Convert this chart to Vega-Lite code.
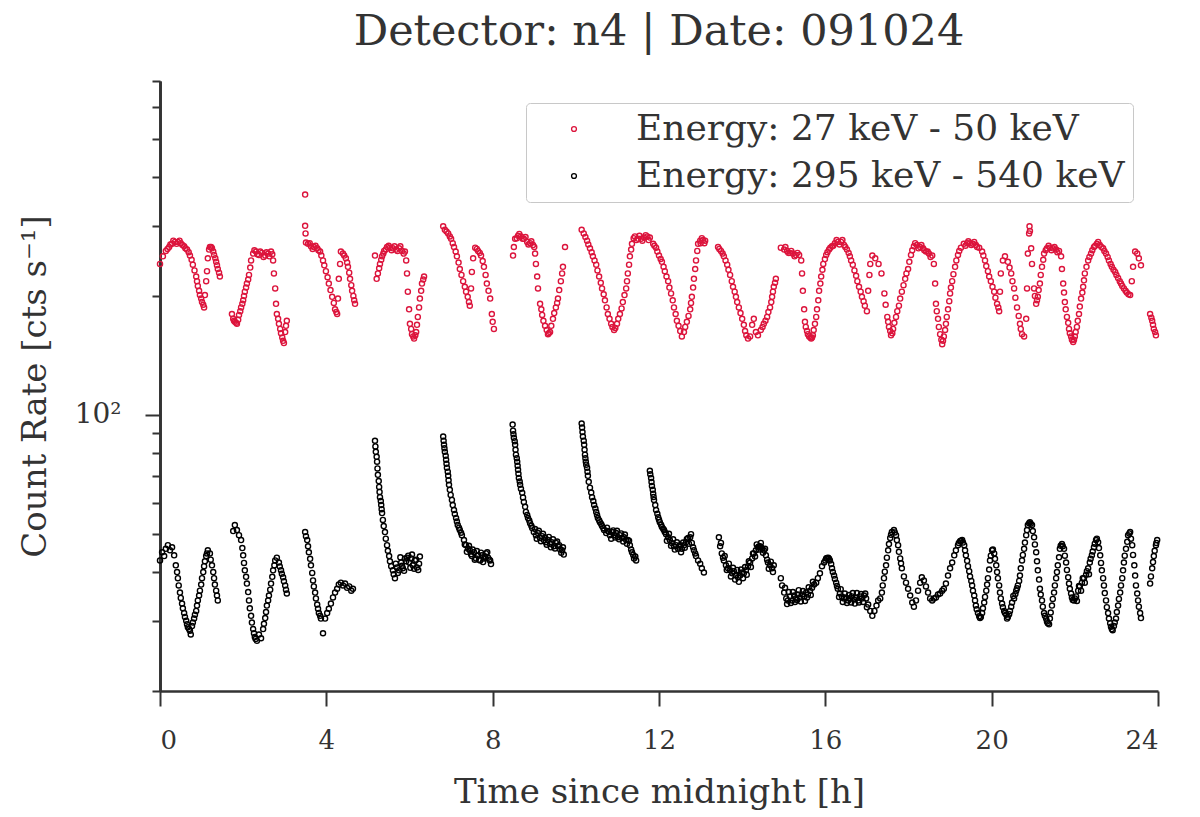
{
  "$schema": "https://vega.github.io/schema/vega-lite/v6.json",
  "autosize": "none",
  "width": 998,
  "height": 610,
  "padding": {"left": 160, "top": 81, "right": 42, "bottom": 126},
  "background": "#ffffff",
  "title": {
    "text": "Detector: n4 | Date: 091024",
    "fontSize": 43,
    "fontWeight": "normal",
    "color": "#333333",
    "anchor": "middle",
    "offset": 26
  },
  "config": {
    "font": "DejaVu Serif",
    "view": {"stroke": null},
    "axis": {
      "domainColor": "#333333",
      "domainWidth": 2.7,
      "tickColor": "#333333",
      "tickWidth": 2,
      "labelColor": "#333333",
      "titleColor": "#333333",
      "labelFontSize": 26,
      "titleFontSize": 34,
      "titleFontWeight": "normal",
      "grid": false
    }
  },
  "data": {
    "values": [
      {"h":0.00,"v":241,"b":"lo"},{"h":0.07,"v":252,"b":"lo"},{"h":0.14,"v":260,"b":"lo"},{"h":0.22,"v":266,"b":"lo"},{"h":0.29,"v":271,"b":"lo"},{"h":0.36,"v":274,"b":"lo"},{"h":0.43,"v":274,"b":"lo"},{"h":0.50,"v":272,"b":"lo"},{"h":0.58,"v":267,"b":"lo"},{"h":0.65,"v":262,"b":"lo"},{"h":0.72,"v":253,"b":"lo"},{"h":0.79,"v":240,"b":"lo"},{"h":0.87,"v":224,"b":"lo"},{"h":0.91,"v":212,"b":"lo"},{"h":0.96,"v":201,"b":"lo"},{"h":1.01,"v":193,"b":"lo"},{"h":1.06,"v":187,"b":"lo"},{"h":1.08,"v":201,"b":"lo"},{"h":1.11,"v":218,"b":"lo"},{"h":1.13,"v":231,"b":"lo"},{"h":1.15,"v":249,"b":"lo"},{"h":1.20,"v":266,"b":"lo"},{"h":1.25,"v":264,"b":"lo"},{"h":1.30,"v":254,"b":"lo"},{"h":1.35,"v":244,"b":"lo"},{"h":1.39,"v":234,"b":"lo"},{"h":1.44,"v":224,"b":"lo"},
      {"h":0.18,"v":263,"b":"lo"},{"h":0.25,"v":270,"b":"lo"},{"h":0.32,"v":276,"b":"lo"},{"h":0.40,"v":271,"b":"lo"},{"h":0.47,"v":276,"b":"lo"},{"h":0.54,"v":269,"b":"lo"},
      {"h":0.61,"v":264,"b":"lo"},{"h":0.69,"v":258,"b":"lo"},{"h":0.76,"v":247,"b":"lo"},{"h":0.83,"v":232,"b":"lo"},{"h":0.89,"v":218,"b":"lo"},{"h":0.94,"v":206,"b":"lo"},{"h":0.99,"v":197,"b":"lo"},{"h":1.04,"v":190,"b":"lo"},{"h":1.18,"v":262,"b":"lo"},{"h":1.23,"v":266,"b":"lo"},{"h":1.28,"v":259,"b":"lo"},{"h":1.33,"v":249,"b":"lo"},{"h":1.37,"v":239,"b":"lo"},{"h":1.42,"v":229,"b":"lo"},
      {"h":1.73,"v":180,"b":"lo"},{"h":1.76,"v":175,"b":"lo"},{"h":1.80,"v":172,"b":"lo"},{"h":1.85,"v":170,"b":"lo"},{"h":1.90,"v":179,"b":"lo"},{"h":1.95,"v":187,"b":"lo"},{"h":2.00,"v":195,"b":"lo"},{"h":2.04,"v":205,"b":"lo"},{"h":2.09,"v":215,"b":"lo"},{"h":2.14,"v":226,"b":"lo"},{"h":2.19,"v":246,"b":"lo"},{"h":2.24,"v":256,"b":"lo"},{"h":2.31,"v":259,"b":"lo"},{"h":2.38,"v":254,"b":"lo"},{"h":2.45,"v":257,"b":"lo"},{"h":2.53,"v":253,"b":"lo"},{"h":2.60,"v":256,"b":"lo"},{"h":2.67,"v":259,"b":"lo"},{"h":2.72,"v":246,"b":"lo"},{"h":2.74,"v":228,"b":"lo"},{"h":2.77,"v":209,"b":"lo"},{"h":2.79,"v":191,"b":"lo"},{"h":2.81,"v":180,"b":"lo"},{"h":2.86,"v":170,"b":"lo"},{"h":2.91,"v":161,"b":"lo"},{"h":2.96,"v":154,"b":"lo"},{"h":2.98,"v":152,"b":"lo"},{"h":3.01,"v":162,"b":"lo"},{"h":3.05,"v":173,"b":"lo"},
      {"h":2.27,"v":261,"b":"lo"},{"h":2.34,"v":255,"b":"lo"},{"h":2.41,"v":259,"b":"lo"},{"h":2.49,"v":251,"b":"lo"},{"h":2.56,"v":258,"b":"lo"},{"h":2.63,"v":252,"b":"lo"},{"h":2.70,"v":255,"b":"lo"},
      {"h":1.78,"v":173,"b":"lo"},{"h":1.83,"v":171,"b":"lo"},{"h":1.88,"v":174,"b":"lo"},{"h":1.93,"v":183,"b":"lo"},{"h":1.98,"v":191,"b":"lo"},{"h":2.02,"v":200,"b":"lo"},{"h":2.07,"v":210,"b":"lo"},{"h":2.12,"v":220,"b":"lo"},{"h":2.17,"v":236,"b":"lo"},{"h":2.84,"v":175,"b":"lo"},{"h":2.89,"v":165,"b":"lo"},{"h":2.94,"v":157,"b":"lo"},{"h":3.03,"v":168,"b":"lo"},
      {"h":3.49,"v":361,"b":"lo"},{"h":3.49,"v":301,"b":"lo"},{"h":3.50,"v":288,"b":"lo"},{"h":3.51,"v":273,"b":"lo"},{"h":3.56,"v":271,"b":"lo"},{"h":3.63,"v":267,"b":"lo"},{"h":3.70,"v":266,"b":"lo"},{"h":3.78,"v":264,"b":"lo"},{"h":3.85,"v":259,"b":"lo"},{"h":3.92,"v":246,"b":"lo"},{"h":3.99,"v":231,"b":"lo"},{"h":4.06,"v":215,"b":"lo"},{"h":4.14,"v":199,"b":"lo"},{"h":4.21,"v":185,"b":"lo"},{"h":4.26,"v":180,"b":"lo"},{"h":4.28,"v":197,"b":"lo"},{"h":4.30,"v":221,"b":"lo"},{"h":4.33,"v":241,"b":"lo"},{"h":4.35,"v":259,"b":"lo"},{"h":4.40,"v":256,"b":"lo"},{"h":4.47,"v":249,"b":"lo"},{"h":4.52,"v":237,"b":"lo"},{"h":4.57,"v":221,"b":"lo"},{"h":4.62,"v":206,"b":"lo"},{"h":4.67,"v":195,"b":"lo"},{"h":4.69,"v":191,"b":"lo"},
      {"h":3.60,"v":272,"b":"lo"},{"h":3.67,"v":263,"b":"lo"},{"h":3.74,"v":268,"b":"lo"},{"h":3.81,"v":261,"b":"lo"},
      {"h":3.88,"v":253,"b":"lo"},{"h":3.95,"v":239,"b":"lo"},{"h":4.03,"v":223,"b":"lo"},{"h":4.10,"v":207,"b":"lo"},{"h":4.18,"v":192,"b":"lo"},{"h":4.24,"v":182,"b":"lo"},{"h":4.43,"v":253,"b":"lo"},{"h":4.50,"v":243,"b":"lo"},{"h":4.55,"v":229,"b":"lo"},{"h":4.60,"v":213,"b":"lo"},{"h":4.65,"v":200,"b":"lo"},
      {"h":5.17,"v":253,"b":"lo"},{"h":5.21,"v":221,"b":"lo"},{"h":5.24,"v":228,"b":"lo"},{"h":5.29,"v":241,"b":"lo"},{"h":5.34,"v":252,"b":"lo"},{"h":5.39,"v":260,"b":"lo"},{"h":5.46,"v":266,"b":"lo"},{"h":5.53,"v":265,"b":"lo"},{"h":5.60,"v":264,"b":"lo"},{"h":5.68,"v":262,"b":"lo"},{"h":5.75,"v":264,"b":"lo"},{"h":5.82,"v":260,"b":"lo"},{"h":5.89,"v":259,"b":"lo"},{"h":5.92,"v":246,"b":"lo"},{"h":5.94,"v":228,"b":"lo"},{"h":5.96,"v":205,"b":"lo"},{"h":5.99,"v":185,"b":"lo"},{"h":6.01,"v":170,"b":"lo"},{"h":6.06,"v":160,"b":"lo"},{"h":6.11,"v":156,"b":"lo"},{"h":6.16,"v":162,"b":"lo"},{"h":6.20,"v":177,"b":"lo"},{"h":6.25,"v":197,"b":"lo"},{"h":6.30,"v":215,"b":"lo"},{"h":6.35,"v":224,"b":"lo"},
      {"h":5.43,"v":262,"b":"lo"},{"h":5.50,"v":268,"b":"lo"},{"h":5.57,"v":261,"b":"lo"},{"h":5.64,"v":267,"b":"lo"},{"h":5.71,"v":260,"b":"lo"},{"h":5.78,"v":267,"b":"lo"},{"h":5.86,"v":256,"b":"lo"},
      {"h":5.27,"v":235,"b":"lo"},{"h":5.32,"v":247,"b":"lo"},{"h":5.37,"v":256,"b":"lo"},{"h":6.04,"v":165,"b":"lo"},{"h":6.09,"v":158,"b":"lo"},{"h":6.14,"v":159,"b":"lo"},{"h":6.18,"v":169,"b":"lo"},{"h":6.23,"v":187,"b":"lo"},{"h":6.28,"v":206,"b":"lo"},{"h":6.33,"v":220,"b":"lo"},
      {"h":6.81,"v":300,"b":"lo"},{"h":6.85,"v":294,"b":"lo"},{"h":6.93,"v":288,"b":"lo"},{"h":7.00,"v":279,"b":"lo"},{"h":7.07,"v":266,"b":"lo"},{"h":7.14,"v":252,"b":"lo"},{"h":7.21,"v":234,"b":"lo"},{"h":7.29,"v":218,"b":"lo"},{"h":7.36,"v":205,"b":"lo"},{"h":7.43,"v":193,"b":"lo"},{"h":7.45,"v":189,"b":"lo"},{"h":7.48,"v":209,"b":"lo"},{"h":7.50,"v":230,"b":"lo"},{"h":7.53,"v":249,"b":"lo"},{"h":7.58,"v":265,"b":"lo"},{"h":7.65,"v":260,"b":"lo"},{"h":7.72,"v":253,"b":"lo"},{"h":7.79,"v":237,"b":"lo"},{"h":7.86,"v":215,"b":"lo"},{"h":7.94,"v":197,"b":"lo"},{"h":7.98,"v":180,"b":"lo"},{"h":8.03,"v":165,"b":"lo"},
      {"h":6.89,"v":291,"b":"lo"},{"h":6.97,"v":283,"b":"lo"},{"h":7.04,"v":272,"b":"lo"},{"h":7.11,"v":259,"b":"lo"},{"h":7.18,"v":243,"b":"lo"},{"h":7.25,"v":226,"b":"lo"},{"h":7.33,"v":211,"b":"lo"},{"h":7.40,"v":199,"b":"lo"},{"h":7.62,"v":263,"b":"lo"},{"h":7.69,"v":257,"b":"lo"},{"h":7.76,"v":245,"b":"lo"},{"h":7.83,"v":226,"b":"lo"},{"h":7.90,"v":206,"b":"lo"},{"h":8.00,"v":172,"b":"lo"},
      {"h":8.49,"v":253,"b":"lo"},{"h":8.51,"v":266,"b":"lo"},{"h":8.54,"v":279,"b":"lo"},{"h":8.61,"v":284,"b":"lo"},{"h":8.68,"v":283,"b":"lo"},{"h":8.75,"v":279,"b":"lo"},{"h":8.83,"v":274,"b":"lo"},{"h":8.90,"v":272,"b":"lo"},{"h":8.97,"v":269,"b":"lo"},{"h":9.02,"v":256,"b":"lo"},{"h":9.04,"v":241,"b":"lo"},{"h":9.07,"v":224,"b":"lo"},{"h":9.09,"v":209,"b":"lo"},{"h":9.14,"v":191,"b":"lo"},{"h":9.19,"v":179,"b":"lo"},{"h":9.26,"v":168,"b":"lo"},{"h":9.33,"v":160,"b":"lo"},{"h":9.38,"v":162,"b":"lo"},{"h":9.45,"v":175,"b":"lo"},{"h":9.52,"v":187,"b":"lo"},{"h":9.57,"v":197,"b":"lo"},{"h":9.64,"v":218,"b":"lo"},{"h":9.69,"v":237,"b":"lo"},{"h":9.74,"v":266,"b":"lo"},
      {"h":8.58,"v":280,"b":"lo"},{"h":8.64,"v":287,"b":"lo"},{"h":8.72,"v":279,"b":"lo"},{"h":8.79,"v":282,"b":"lo"},{"h":8.86,"v":270,"b":"lo"},{"h":8.93,"v":275,"b":"lo"},{"h":9.00,"v":266,"b":"lo"},
      {"h":9.17,"v":185,"b":"lo"},{"h":9.22,"v":173,"b":"lo"},{"h":9.30,"v":164,"b":"lo"},{"h":9.35,"v":161,"b":"lo"},{"h":9.41,"v":168,"b":"lo"},{"h":9.48,"v":181,"b":"lo"},{"h":9.55,"v":192,"b":"lo"},{"h":9.60,"v":207,"b":"lo"},{"h":9.67,"v":228,"b":"lo"},
      {"h":10.14,"v":294,"b":"lo"},{"h":10.19,"v":288,"b":"lo"},{"h":10.27,"v":276,"b":"lo"},{"h":10.34,"v":264,"b":"lo"},{"h":10.41,"v":252,"b":"lo"},{"h":10.49,"v":240,"b":"lo"},{"h":10.56,"v":224,"b":"lo"},{"h":10.63,"v":209,"b":"lo"},{"h":10.70,"v":195,"b":"lo"},{"h":10.77,"v":180,"b":"lo"},{"h":10.85,"v":170,"b":"lo"},{"h":10.92,"v":164,"b":"lo"},{"h":10.99,"v":170,"b":"lo"},{"h":11.06,"v":180,"b":"lo"},{"h":11.13,"v":193,"b":"lo"},{"h":11.21,"v":209,"b":"lo"},{"h":11.25,"v":228,"b":"lo"},{"h":11.30,"v":252,"b":"lo"},{"h":11.35,"v":271,"b":"lo"},{"h":11.42,"v":283,"b":"lo"},{"h":11.50,"v":279,"b":"lo"},{"h":11.57,"v":279,"b":"lo"},{"h":11.64,"v":281,"b":"lo"},{"h":11.72,"v":283,"b":"lo"},{"h":11.78,"v":281,"b":"lo"},{"h":11.86,"v":271,"b":"lo"},{"h":11.93,"v":265,"b":"lo"},{"h":12.00,"v":253,"b":"lo"},{"h":12.07,"v":244,"b":"lo"},{"h":12.14,"v":231,"b":"lo"},{"h":12.22,"v":218,"b":"lo"},{"h":12.29,"v":203,"b":"lo"},{"h":12.36,"v":187,"b":"lo"},{"h":12.43,"v":173,"b":"lo"},{"h":12.51,"v":163,"b":"lo"},{"h":12.55,"v":158,"b":"lo"},{"h":12.60,"v":162,"b":"lo"},{"h":12.67,"v":172,"b":"lo"},{"h":12.75,"v":185,"b":"lo"},{"h":12.79,"v":199,"b":"lo"},{"h":12.84,"v":221,"b":"lo"},{"h":12.89,"v":246,"b":"lo"},{"h":12.94,"v":271,"b":"lo"},{"h":12.99,"v":276,"b":"lo"},{"h":13.06,"v":277,"b":"lo"},{"h":13.11,"v":276,"b":"lo"},
      {"h":11.46,"v":277,"b":"lo"},{"h":11.53,"v":284,"b":"lo"},{"h":11.60,"v":276,"b":"lo"},{"h":11.68,"v":285,"b":"lo"},{"h":11.75,"v":277,"b":"lo"},{"h":13.00,"v":272,"b":"lo"},{"h":13.03,"v":280,"b":"lo"},{"h":13.09,"v":272,"b":"lo"},
      {"h":10.23,"v":282,"b":"lo"},{"h":10.30,"v":270,"b":"lo"},{"h":10.38,"v":258,"b":"lo"},{"h":10.45,"v":246,"b":"lo"},{"h":10.52,"v":232,"b":"lo"},{"h":10.60,"v":216,"b":"lo"},{"h":10.67,"v":202,"b":"lo"},{"h":10.74,"v":187,"b":"lo"},{"h":10.81,"v":175,"b":"lo"},{"h":10.88,"v":167,"b":"lo"},{"h":10.95,"v":166,"b":"lo"},{"h":11.02,"v":175,"b":"lo"},{"h":11.10,"v":186,"b":"lo"},{"h":11.17,"v":201,"b":"lo"},{"h":11.23,"v":218,"b":"lo"},{"h":11.28,"v":240,"b":"lo"},{"h":11.33,"v":262,"b":"lo"},{"h":11.39,"v":280,"b":"lo"},{"h":11.89,"v":268,"b":"lo"},{"h":11.96,"v":259,"b":"lo"},{"h":12.04,"v":248,"b":"lo"},{"h":12.11,"v":237,"b":"lo"},{"h":12.18,"v":224,"b":"lo"},{"h":12.25,"v":210,"b":"lo"},{"h":12.33,"v":195,"b":"lo"},{"h":12.40,"v":180,"b":"lo"},{"h":12.47,"v":168,"b":"lo"},{"h":12.63,"v":167,"b":"lo"},{"h":12.71,"v":178,"b":"lo"},{"h":12.77,"v":192,"b":"lo"},{"h":12.82,"v":210,"b":"lo"},{"h":12.87,"v":234,"b":"lo"},{"h":12.92,"v":260,"b":"lo"},
      {"h":13.42,"v":266,"b":"lo"},{"h":13.49,"v":260,"b":"lo"},{"h":13.56,"v":252,"b":"lo"},{"h":13.64,"v":240,"b":"lo"},{"h":13.71,"v":226,"b":"lo"},{"h":13.78,"v":211,"b":"lo"},{"h":13.85,"v":199,"b":"lo"},{"h":13.92,"v":187,"b":"lo"},{"h":14.00,"v":175,"b":"lo"},{"h":14.07,"v":163,"b":"lo"},{"h":14.14,"v":156,"b":"lo"},{"h":14.19,"v":158,"b":"lo"},{"h":14.24,"v":169,"b":"lo"},{"h":14.28,"v":175,"b":"lo"},{"h":14.33,"v":162,"b":"lo"},{"h":14.38,"v":159,"b":"lo"},{"h":14.45,"v":164,"b":"lo"},{"h":14.52,"v":170,"b":"lo"},{"h":14.60,"v":177,"b":"lo"},{"h":14.67,"v":187,"b":"lo"},{"h":14.72,"v":199,"b":"lo"},{"h":14.76,"v":211,"b":"lo"},{"h":14.81,"v":221,"b":"lo"},
      {"h":13.45,"v":263,"b":"lo"},{"h":13.53,"v":256,"b":"lo"},{"h":13.60,"v":246,"b":"lo"},{"h":13.67,"v":233,"b":"lo"},{"h":13.75,"v":218,"b":"lo"},{"h":13.82,"v":205,"b":"lo"},{"h":13.88,"v":193,"b":"lo"},{"h":13.96,"v":181,"b":"lo"},{"h":14.04,"v":169,"b":"lo"},{"h":14.10,"v":159,"b":"lo"},{"h":14.49,"v":167,"b":"lo"},{"h":14.56,"v":173,"b":"lo"},{"h":14.63,"v":182,"b":"lo"},{"h":14.70,"v":193,"b":"lo"},{"h":14.74,"v":205,"b":"lo"},{"h":14.79,"v":216,"b":"lo"},
      {"h":14.93,"v":265,"b":"lo"},{"h":15.01,"v":262,"b":"lo"},{"h":15.08,"v":260,"b":"lo"},{"h":15.15,"v":257,"b":"lo"},{"h":15.22,"v":256,"b":"lo"},{"h":15.29,"v":254,"b":"lo"},{"h":15.37,"v":254,"b":"lo"},{"h":15.42,"v":246,"b":"lo"},{"h":15.44,"v":228,"b":"lo"},{"h":15.46,"v":206,"b":"lo"},{"h":15.49,"v":185,"b":"lo"},{"h":15.51,"v":172,"b":"lo"},{"h":15.56,"v":163,"b":"lo"},{"h":15.61,"v":158,"b":"lo"},{"h":15.66,"v":156,"b":"lo"},{"h":15.70,"v":159,"b":"lo"},{"h":15.75,"v":170,"b":"lo"},{"h":15.80,"v":185,"b":"lo"},{"h":15.85,"v":206,"b":"lo"},{"h":15.90,"v":224,"b":"lo"},{"h":15.95,"v":241,"b":"lo"},{"h":16.02,"v":254,"b":"lo"},{"h":16.09,"v":262,"b":"lo"},{"h":16.16,"v":267,"b":"lo"},{"h":16.23,"v":272,"b":"lo"},{"h":16.30,"v":274,"b":"lo"},{"h":16.38,"v":274,"b":"lo"},{"h":16.45,"v":269,"b":"lo"},{"h":16.52,"v":262,"b":"lo"},{"h":16.59,"v":252,"b":"lo"},{"h":16.66,"v":240,"b":"lo"},{"h":16.74,"v":225,"b":"lo"},{"h":16.81,"v":211,"b":"lo"},{"h":16.88,"v":199,"b":"lo"},{"h":16.95,"v":189,"b":"lo"},{"h":17.00,"v":183,"b":"lo"},{"h":17.03,"v":206,"b":"lo"},{"h":17.06,"v":226,"b":"lo"},{"h":17.08,"v":241,"b":"lo"},{"h":17.13,"v":253,"b":"lo"},{"h":17.20,"v":249,"b":"lo"},{"h":17.28,"v":241,"b":"lo"},{"h":17.35,"v":228,"b":"lo"},{"h":17.42,"v":203,"b":"lo"},{"h":17.49,"v":177,"b":"lo"},{"h":17.53,"v":167,"b":"lo"},{"h":17.58,"v":159,"b":"lo"},{"h":17.63,"v":165,"b":"lo"},{"h":17.70,"v":177,"b":"lo"},{"h":17.77,"v":189,"b":"lo"},{"h":17.84,"v":205,"b":"lo"},{"h":17.92,"v":221,"b":"lo"},{"h":17.99,"v":234,"b":"lo"},{"h":18.06,"v":254,"b":"lo"},{"h":18.13,"v":267,"b":"lo"},{"h":18.20,"v":269,"b":"lo"},{"h":18.28,"v":266,"b":"lo"},{"h":18.35,"v":264,"b":"lo"},{"h":18.42,"v":259,"b":"lo"},{"h":18.49,"v":256,"b":"lo"},{"h":18.57,"v":253,"b":"lo"},{"h":18.61,"v":241,"b":"lo"},{"h":18.64,"v":215,"b":"lo"},{"h":18.66,"v":191,"b":"lo"},{"h":18.71,"v":175,"b":"lo"},{"h":18.76,"v":160,"b":"lo"},{"h":18.81,"v":151,"b":"lo"},{"h":18.85,"v":158,"b":"lo"},{"h":18.90,"v":170,"b":"lo"},{"h":18.95,"v":185,"b":"lo"},{"h":19.00,"v":203,"b":"lo"},{"h":19.05,"v":218,"b":"lo"},{"h":19.12,"v":237,"b":"lo"},{"h":19.19,"v":254,"b":"lo"},{"h":19.26,"v":265,"b":"lo"},{"h":19.33,"v":271,"b":"lo"},{"h":19.41,"v":272,"b":"lo"},{"h":19.48,"v":272,"b":"lo"},{"h":19.55,"v":271,"b":"lo"},{"h":19.62,"v":269,"b":"lo"},{"h":19.70,"v":265,"b":"lo"},{"h":19.77,"v":259,"b":"lo"},{"h":19.84,"v":246,"b":"lo"},{"h":19.91,"v":231,"b":"lo"},{"h":19.98,"v":218,"b":"lo"},{"h":20.06,"v":205,"b":"lo"},{"h":20.13,"v":191,"b":"lo"},{"h":20.18,"v":183,"b":"lo"},{"h":20.20,"v":205,"b":"lo"},{"h":20.22,"v":228,"b":"lo"},{"h":20.27,"v":246,"b":"lo"},{"h":20.32,"v":252,"b":"lo"},{"h":20.39,"v":244,"b":"lo"},{"h":20.47,"v":228,"b":"lo"},{"h":20.54,"v":209,"b":"lo"},{"h":20.61,"v":187,"b":"lo"},{"h":20.68,"v":170,"b":"lo"},{"h":20.73,"v":160,"b":"lo"},{"h":20.78,"v":158,"b":"lo"},{"h":20.83,"v":175,"b":"lo"},{"h":20.85,"v":209,"b":"lo"},{"h":20.87,"v":256,"b":"lo"},{"h":20.90,"v":288,"b":"lo"},{"h":20.91,"v":300,"b":"lo"},{"h":20.92,"v":292,"b":"lo"},{"h":20.95,"v":264,"b":"lo"},{"h":20.97,"v":241,"b":"lo"},{"h":21.02,"v":209,"b":"lo"},{"h":21.07,"v":191,"b":"lo"},{"h":21.11,"v":199,"b":"lo"},{"h":21.16,"v":215,"b":"lo"},{"h":21.21,"v":237,"b":"lo"},{"h":21.26,"v":256,"b":"lo"},{"h":21.33,"v":264,"b":"lo"},{"h":21.40,"v":265,"b":"lo"},{"h":21.47,"v":264,"b":"lo"},{"h":21.55,"v":262,"b":"lo"},{"h":21.62,"v":260,"b":"lo"},{"h":21.67,"v":252,"b":"lo"},{"h":21.69,"v":234,"b":"lo"},{"h":21.72,"v":215,"b":"lo"},{"h":21.76,"v":193,"b":"lo"},{"h":21.81,"v":177,"b":"lo"},{"h":21.86,"v":165,"b":"lo"},{"h":21.91,"v":158,"b":"lo"},{"h":21.96,"v":153,"b":"lo"},{"h":22.00,"v":158,"b":"lo"},{"h":22.05,"v":167,"b":"lo"},{"h":22.10,"v":180,"b":"lo"},{"h":22.15,"v":197,"b":"lo"},{"h":22.20,"v":211,"b":"lo"},{"h":22.24,"v":228,"b":"lo"},{"h":22.32,"v":246,"b":"lo"},{"h":22.39,"v":256,"b":"lo"},{"h":22.46,"v":266,"b":"lo"},{"h":22.53,"v":271,"b":"lo"},{"h":22.60,"v":269,"b":"lo"},{"h":22.68,"v":264,"b":"lo"},{"h":22.75,"v":256,"b":"lo"},{"h":22.82,"v":246,"b":"lo"},{"h":22.89,"v":237,"b":"lo"},{"h":22.97,"v":230,"b":"lo"},{"h":23.04,"v":222,"b":"lo"},{"h":23.11,"v":215,"b":"lo"},{"h":23.18,"v":209,"b":"lo"},{"h":23.25,"v":204,"b":"lo"},{"h":23.33,"v":201,"b":"lo"},{"h":23.37,"v":218,"b":"lo"},{"h":23.40,"v":237,"b":"lo"},{"h":23.45,"v":259,"b":"lo"},{"h":23.50,"v":256,"b":"lo"},{"h":23.54,"v":249,"b":"lo"},{"h":23.59,"v":239,"b":"lo"},{"h":23.81,"v":180,"b":"lo"},{"h":23.86,"v":173,"b":"lo"},{"h":23.90,"v":165,"b":"lo"},{"h":23.95,"v":159,"b":"lo"},
      {"h":15.04,"v":266,"b":"lo"},{"h":15.11,"v":257,"b":"lo"},{"h":15.18,"v":260,"b":"lo"},{"h":15.26,"v":252,"b":"lo"},{"h":15.33,"v":257,"b":"lo"},{"h":16.19,"v":268,"b":"lo"},{"h":16.27,"v":277,"b":"lo"},{"h":16.34,"v":270,"b":"lo"},{"h":16.41,"v":277,"b":"lo"},{"h":16.48,"v":266,"b":"lo"},{"h":18.16,"v":272,"b":"lo"},{"h":18.24,"v":264,"b":"lo"},{"h":18.31,"v":269,"b":"lo"},{"h":18.38,"v":261,"b":"lo"},{"h":18.46,"v":259,"b":"lo"},{"h":18.53,"v":251,"b":"lo"},{"h":19.37,"v":268,"b":"lo"},{"h":19.44,"v":275,"b":"lo"},{"h":19.51,"v":269,"b":"lo"},{"h":19.58,"v":274,"b":"lo"},{"h":19.65,"v":266,"b":"lo"},{"h":21.30,"v":261,"b":"lo"},{"h":21.37,"v":268,"b":"lo"},{"h":21.44,"v":261,"b":"lo"},{"h":21.51,"v":266,"b":"lo"},{"h":21.58,"v":258,"b":"lo"},{"h":22.49,"v":268,"b":"lo"},{"h":22.56,"v":274,"b":"lo"},{"h":22.64,"v":266,"b":"lo"},
      {"h":15.53,"v":167,"b":"lo"},{"h":15.58,"v":160,"b":"lo"},{"h":15.64,"v":157,"b":"lo"},{"h":15.68,"v":157,"b":"lo"},{"h":15.72,"v":164,"b":"lo"},{"h":15.78,"v":177,"b":"lo"},{"h":15.83,"v":195,"b":"lo"},{"h":15.88,"v":215,"b":"lo"},{"h":15.93,"v":233,"b":"lo"},{"h":15.99,"v":248,"b":"lo"},{"h":16.05,"v":258,"b":"lo"},{"h":16.12,"v":265,"b":"lo"},{"h":16.56,"v":257,"b":"lo"},{"h":16.62,"v":246,"b":"lo"},{"h":16.70,"v":232,"b":"lo"},{"h":16.77,"v":218,"b":"lo"},{"h":16.85,"v":205,"b":"lo"},{"h":16.92,"v":194,"b":"lo"},{"h":17.45,"v":190,"b":"lo"},{"h":17.51,"v":172,"b":"lo"},{"h":17.56,"v":163,"b":"lo"},{"h":17.61,"v":161,"b":"lo"},{"h":17.66,"v":171,"b":"lo"},{"h":17.73,"v":183,"b":"lo"},{"h":17.80,"v":197,"b":"lo"},{"h":17.88,"v":213,"b":"lo"},{"h":17.95,"v":228,"b":"lo"},{"h":18.02,"v":244,"b":"lo"},{"h":18.09,"v":261,"b":"lo"},{"h":18.68,"v":183,"b":"lo"},{"h":18.73,"v":167,"b":"lo"},{"h":18.79,"v":155,"b":"lo"},{"h":18.83,"v":154,"b":"lo"},{"h":18.88,"v":164,"b":"lo"},{"h":18.92,"v":177,"b":"lo"},{"h":18.98,"v":194,"b":"lo"},{"h":19.02,"v":210,"b":"lo"},{"h":19.08,"v":227,"b":"lo"},{"h":19.15,"v":246,"b":"lo"},{"h":19.22,"v":260,"b":"lo"},{"h":19.80,"v":253,"b":"lo"},{"h":19.87,"v":238,"b":"lo"},{"h":19.94,"v":224,"b":"lo"},{"h":20.02,"v":211,"b":"lo"},{"h":20.09,"v":198,"b":"lo"},{"h":20.16,"v":187,"b":"lo"},{"h":20.43,"v":236,"b":"lo"},{"h":20.50,"v":218,"b":"lo"},{"h":20.57,"v":198,"b":"lo"},{"h":20.65,"v":178,"b":"lo"},{"h":20.70,"v":165,"b":"lo"},{"h":21.04,"v":200,"b":"lo"},{"h":21.09,"v":195,"b":"lo"},{"h":21.13,"v":207,"b":"lo"},{"h":21.18,"v":226,"b":"lo"},{"h":21.24,"v":247,"b":"lo"},{"h":21.74,"v":204,"b":"lo"},{"h":21.78,"v":185,"b":"lo"},{"h":21.84,"v":171,"b":"lo"},{"h":21.88,"v":161,"b":"lo"},{"h":21.93,"v":155,"b":"lo"},{"h":21.98,"v":155,"b":"lo"},{"h":22.02,"v":162,"b":"lo"},{"h":22.07,"v":173,"b":"lo"},{"h":22.12,"v":188,"b":"lo"},{"h":22.18,"v":204,"b":"lo"},{"h":22.22,"v":219,"b":"lo"},{"h":22.28,"v":237,"b":"lo"},{"h":22.35,"v":251,"b":"lo"},{"h":22.42,"v":261,"b":"lo"},{"h":22.71,"v":260,"b":"lo"},{"h":22.79,"v":251,"b":"lo"},{"h":22.86,"v":241,"b":"lo"},{"h":22.93,"v":233,"b":"lo"},{"h":23.00,"v":226,"b":"lo"},{"h":23.08,"v":218,"b":"lo"},{"h":23.14,"v":212,"b":"lo"},{"h":23.22,"v":206,"b":"lo"},{"h":23.29,"v":202,"b":"lo"},{"h":23.84,"v":176,"b":"lo"},{"h":23.88,"v":169,"b":"lo"},{"h":23.93,"v":162,"b":"lo"},
      {"h":0.00,"v":42.8,"b":"hi"},{"h":0.05,"v":44.9,"b":"hi"},{"h":0.10,"v":43.9,"b":"hi"},{"h":0.14,"v":45.8,"b":"hi"},{"h":0.19,"v":46.8,"b":"hi"},{"h":0.24,"v":45.4,"b":"hi"},{"h":0.29,"v":46.2,"b":"hi"},{"h":0.34,"v":44.1,"b":"hi"},{"h":0.38,"v":41.6,"b":"hi"},{"h":0.43,"v":38.6,"b":"hi"},{"h":0.48,"v":35.5,"b":"hi"},{"h":0.53,"v":33.3,"b":"hi"},{"h":0.58,"v":31.5,"b":"hi"},{"h":0.63,"v":30.1,"b":"hi"},{"h":0.67,"v":29.0,"b":"hi"},{"h":0.72,"v":28.4,"b":"hi"},{"h":0.74,"v":27.8,"b":"hi"},{"h":0.77,"v":29.2,"b":"hi"},{"h":0.82,"v":30.5,"b":"hi"},{"h":0.87,"v":31.9,"b":"hi"},{"h":0.91,"v":33.9,"b":"hi"},{"h":0.96,"v":35.9,"b":"hi"},{"h":1.01,"v":38.6,"b":"hi"},{"h":1.06,"v":41.4,"b":"hi"},{"h":1.11,"v":43.9,"b":"hi"},{"h":1.15,"v":45.4,"b":"hi"},{"h":1.20,"v":44.6,"b":"hi"},{"h":1.25,"v":41.6,"b":"hi"},{"h":1.30,"v":38.6,"b":"hi"},{"h":1.35,"v":35.9,"b":"hi"},{"h":1.39,"v":33.9,"b":"hi"},
      {"h":0.41,"v":40.0,"b":"hi"},{"h":0.45,"v":37.0,"b":"hi"},{"h":0.50,"v":34.4,"b":"hi"},{"h":0.55,"v":32.4,"b":"hi"},{"h":0.60,"v":30.8,"b":"hi"},{"h":0.65,"v":29.5,"b":"hi"},{"h":0.70,"v":28.7,"b":"hi"},{"h":0.79,"v":29.8,"b":"hi"},{"h":0.84,"v":31.2,"b":"hi"},{"h":0.89,"v":32.9,"b":"hi"},{"h":0.94,"v":34.9,"b":"hi"},{"h":0.99,"v":37.2,"b":"hi"},{"h":1.04,"v":40.0,"b":"hi"},{"h":1.08,"v":42.6,"b":"hi"},{"h":1.13,"v":44.6,"b":"hi"},{"h":1.22,"v":43.0,"b":"hi"},{"h":1.28,"v":40.0,"b":"hi"},{"h":1.32,"v":37.2,"b":"hi"},{"h":1.37,"v":34.9,"b":"hi"},
      {"h":1.76,"v":50.8,"b":"hi"},{"h":1.80,"v":52.6,"b":"hi"},{"h":1.85,"v":51.1,"b":"hi"},{"h":1.90,"v":49.6,"b":"hi"},{"h":1.95,"v":48.2,"b":"hi"},{"h":2.00,"v":44.1,"b":"hi"},{"h":2.04,"v":40.4,"b":"hi"},{"h":2.09,"v":37.4,"b":"hi"},{"h":2.14,"v":33.9,"b":"hi"},{"h":2.19,"v":31.0,"b":"hi"},{"h":2.24,"v":28.7,"b":"hi"},{"h":2.28,"v":27.4,"b":"hi"},{"h":2.33,"v":26.8,"b":"hi"},{"h":2.38,"v":27.8,"b":"hi"},{"h":2.43,"v":27.2,"b":"hi"},{"h":2.48,"v":28.7,"b":"hi"},{"h":2.53,"v":30.6,"b":"hi"},{"h":2.57,"v":32.9,"b":"hi"},{"h":2.62,"v":34.9,"b":"hi"},{"h":2.67,"v":37.4,"b":"hi"},{"h":2.72,"v":40.4,"b":"hi"},{"h":2.77,"v":42.8,"b":"hi"},{"h":2.81,"v":43.5,"b":"hi"},{"h":2.86,"v":42.3,"b":"hi"},{"h":2.91,"v":40.4,"b":"hi"},{"h":2.96,"v":38.8,"b":"hi"},{"h":3.01,"v":37.0,"b":"hi"},{"h":3.05,"v":35.3,"b":"hi"},
      {"h":1.98,"v":46.0,"b":"hi"},{"h":2.02,"v":42.2,"b":"hi"},{"h":2.07,"v":38.9,"b":"hi"},{"h":2.12,"v":35.6,"b":"hi"},{"h":2.16,"v":32.4,"b":"hi"},{"h":2.21,"v":29.8,"b":"hi"},{"h":2.26,"v":28.0,"b":"hi"},{"h":2.30,"v":27.1,"b":"hi"},{"h":2.50,"v":29.6,"b":"hi"},{"h":2.55,"v":31.7,"b":"hi"},{"h":2.60,"v":33.9,"b":"hi"},{"h":2.65,"v":36.1,"b":"hi"},{"h":2.70,"v":38.9,"b":"hi"},{"h":2.75,"v":41.6,"b":"hi"},{"h":2.88,"v":41.3,"b":"hi"},{"h":2.93,"v":39.6,"b":"hi"},{"h":2.98,"v":37.9,"b":"hi"},{"h":3.03,"v":36.1,"b":"hi"},
      {"h":3.49,"v":50.5,"b":"hi"},{"h":3.54,"v":48.2,"b":"hi"},{"h":3.58,"v":44.9,"b":"hi"},{"h":3.63,"v":41.6,"b":"hi"},{"h":3.68,"v":38.1,"b":"hi"},{"h":3.73,"v":35.5,"b":"hi"},{"h":3.78,"v":33.1,"b":"hi"},{"h":3.82,"v":31.5,"b":"hi"},{"h":3.87,"v":30.5,"b":"hi"},{"h":3.92,"v":28.0,"b":"hi"},{"h":3.97,"v":30.5,"b":"hi"},{"h":4.02,"v":31.5,"b":"hi"},{"h":4.06,"v":32.3,"b":"hi"},{"h":4.11,"v":33.3,"b":"hi"},{"h":4.16,"v":34.5,"b":"hi"},{"h":4.21,"v":35.5,"b":"hi"},{"h":4.26,"v":36.3,"b":"hi"},{"h":4.30,"v":37.2,"b":"hi"},{"h":4.35,"v":37.6,"b":"hi"},{"h":4.40,"v":37.0,"b":"hi"},{"h":4.45,"v":37.4,"b":"hi"},{"h":4.50,"v":36.5,"b":"hi"},{"h":4.55,"v":36.8,"b":"hi"},{"h":4.60,"v":35.9,"b":"hi"},{"h":4.64,"v":36.3,"b":"hi"},
      {"h":3.51,"v":49.3,"b":"hi"},{"h":3.56,"v":46.5,"b":"hi"},{"h":3.61,"v":43.2,"b":"hi"},{"h":3.66,"v":39.8,"b":"hi"},{"h":3.70,"v":36.8,"b":"hi"},{"h":3.75,"v":34.3,"b":"hi"},{"h":3.80,"v":32.3,"b":"hi"},{"h":3.85,"v":31.0,"b":"hi"},
      {"h":5.17,"v":86.0,"b":"hi"},{"h":5.19,"v":80.6,"b":"hi"},{"h":5.22,"v":76.1,"b":"hi"},{"h":5.24,"v":70.5,"b":"hi"},{"h":5.27,"v":65.7,"b":"hi"},{"h":5.29,"v":61.9,"b":"hi"},{"h":5.32,"v":59.1,"b":"hi"},{"h":5.34,"v":56.4,"b":"hi"},{"h":5.36,"v":54.2,"b":"hi"},{"h":5.41,"v":50.5,"b":"hi"},{"h":5.46,"v":46.8,"b":"hi"},{"h":5.51,"v":43.9,"b":"hi"},{"h":5.56,"v":41.4,"b":"hi"},{"h":5.60,"v":40.4,"b":"hi"},{"h":5.65,"v":38.6,"b":"hi"},{"h":5.70,"v":41.1,"b":"hi"},{"h":5.75,"v":40.4,"b":"hi"},{"h":5.80,"v":42.3,"b":"hi"},{"h":5.84,"v":40.9,"b":"hi"},{"h":5.89,"v":43.3,"b":"hi"},{"h":5.94,"v":43.5,"b":"hi"},{"h":5.99,"v":42.3,"b":"hi"},{"h":6.04,"v":43.3,"b":"hi"},{"h":6.08,"v":41.6,"b":"hi"},{"h":6.13,"v":42.8,"b":"hi"},{"h":6.18,"v":41.1,"b":"hi"},{"h":6.23,"v":42.0,"b":"hi"},
      {"h":5.62,"v":39.5,"b":"hi"},{"h":5.67,"v":42.0,"b":"hi"},{"h":5.72,"v":39.8,"b":"hi"},{"h":5.78,"v":43.6,"b":"hi"},{"h":5.82,"v":41.5,"b":"hi"},{"h":5.87,"v":40.3,"b":"hi"},{"h":5.92,"v":42.6,"b":"hi"},{"h":5.97,"v":44.0,"b":"hi"},{"h":6.02,"v":41.0,"b":"hi"},{"h":6.06,"v":44.3,"b":"hi"},{"h":6.11,"v":40.8,"b":"hi"},{"h":6.16,"v":43.0,"b":"hi"},{"h":6.21,"v":40.5,"b":"hi"},{"h":6.25,"v":43.8,"b":"hi"},
      {"h":5.18,"v":83.2,"b":"hi"},{"h":5.21,"v":78.3,"b":"hi"},{"h":5.23,"v":73.2,"b":"hi"},{"h":5.26,"v":68.0,"b":"hi"},{"h":5.28,"v":63.8,"b":"hi"},{"h":5.31,"v":60.5,"b":"hi"},{"h":5.33,"v":57.7,"b":"hi"},{"h":5.38,"v":52.3,"b":"hi"},{"h":5.43,"v":48.6,"b":"hi"},{"h":5.48,"v":45.3,"b":"hi"},{"h":5.53,"v":42.6,"b":"hi"},
      {"h":6.81,"v":88.1,"b":"hi"},{"h":6.83,"v":84.0,"b":"hi"},{"h":6.85,"v":80.6,"b":"hi"},{"h":6.88,"v":77.0,"b":"hi"},{"h":6.90,"v":73.5,"b":"hi"},{"h":6.93,"v":70.1,"b":"hi"},{"h":6.95,"v":66.5,"b":"hi"},{"h":6.97,"v":64.6,"b":"hi"},{"h":7.02,"v":60.9,"b":"hi"},{"h":7.07,"v":57.4,"b":"hi"},{"h":7.12,"v":54.8,"b":"hi"},{"h":7.16,"v":52.6,"b":"hi"},{"h":7.21,"v":51.1,"b":"hi"},{"h":7.26,"v":49.6,"b":"hi"},{"h":7.31,"v":48.2,"b":"hi"},{"h":7.36,"v":46.8,"b":"hi"},{"h":7.41,"v":45.8,"b":"hi"},{"h":7.45,"v":45.4,"b":"hi"},{"h":7.50,"v":43.9,"b":"hi"},{"h":7.55,"v":44.9,"b":"hi"},{"h":7.60,"v":43.3,"b":"hi"},{"h":7.65,"v":44.1,"b":"hi"},{"h":7.70,"v":42.8,"b":"hi"},{"h":7.74,"v":44.1,"b":"hi"},{"h":7.79,"v":43.3,"b":"hi"},{"h":7.84,"v":44.6,"b":"hi"},{"h":7.89,"v":43.5,"b":"hi"},{"h":7.94,"v":42.8,"b":"hi"},
      {"h":7.33,"v":47.0,"b":"hi"},{"h":7.38,"v":45.0,"b":"hi"},{"h":7.43,"v":46.6,"b":"hi"},{"h":7.48,"v":44.4,"b":"hi"},{"h":7.52,"v":45.6,"b":"hi"},{"h":7.57,"v":43.0,"b":"hi"},{"h":7.62,"v":45.2,"b":"hi"},{"h":7.67,"v":43.0,"b":"hi"},{"h":7.72,"v":44.8,"b":"hi"},{"h":7.77,"v":42.4,"b":"hi"},{"h":7.82,"v":43.8,"b":"hi"},{"h":7.87,"v":44.9,"b":"hi"},{"h":7.92,"v":43.0,"b":"hi"},{"h":7.96,"v":41.9,"b":"hi"},
      {"h":6.82,"v":86.0,"b":"hi"},{"h":6.84,"v":82.3,"b":"hi"},{"h":6.87,"v":78.8,"b":"hi"},{"h":6.89,"v":75.2,"b":"hi"},{"h":6.92,"v":71.8,"b":"hi"},{"h":6.94,"v":68.3,"b":"hi"},{"h":6.99,"v":62.7,"b":"hi"},{"h":7.04,"v":59.1,"b":"hi"},{"h":7.09,"v":56.1,"b":"hi"},{"h":7.14,"v":53.7,"b":"hi"},{"h":7.19,"v":51.8,"b":"hi"},{"h":7.24,"v":50.3,"b":"hi"},
      {"h":8.48,"v":94.5,"b":"hi"},{"h":8.49,"v":91.2,"b":"hi"},{"h":8.51,"v":87.5,"b":"hi"},{"h":8.54,"v":84.0,"b":"hi"},{"h":8.56,"v":79.3,"b":"hi"},{"h":8.59,"v":76.1,"b":"hi"},{"h":8.61,"v":72.6,"b":"hi"},{"h":8.63,"v":69.2,"b":"hi"},{"h":8.66,"v":66.5,"b":"hi"},{"h":8.71,"v":63.5,"b":"hi"},{"h":8.75,"v":60.2,"b":"hi"},{"h":8.80,"v":56.8,"b":"hi"},{"h":8.85,"v":54.8,"b":"hi"},{"h":8.90,"v":53.2,"b":"hi"},{"h":8.95,"v":51.7,"b":"hi"},{"h":8.99,"v":50.5,"b":"hi"},{"h":9.04,"v":49.6,"b":"hi"},{"h":9.09,"v":50.2,"b":"hi"},{"h":9.14,"v":48.8,"b":"hi"},{"h":9.19,"v":49.3,"b":"hi"},{"h":9.23,"v":48.2,"b":"hi"},{"h":9.28,"v":47.6,"b":"hi"},{"h":9.33,"v":48.2,"b":"hi"},{"h":9.38,"v":47.1,"b":"hi"},{"h":9.42,"v":47.6,"b":"hi"},{"h":9.47,"v":46.5,"b":"hi"},{"h":9.52,"v":47.4,"b":"hi"},{"h":9.57,"v":46.5,"b":"hi"},{"h":9.62,"v":45.7,"b":"hi"},{"h":9.67,"v":45.4,"b":"hi"},{"h":9.71,"v":44.3,"b":"hi"},
      {"h":9.02,"v":51.4,"b":"hi"},{"h":9.06,"v":48.6,"b":"hi"},{"h":9.11,"v":50.9,"b":"hi"},{"h":9.16,"v":47.9,"b":"hi"},{"h":9.21,"v":50.0,"b":"hi"},{"h":9.26,"v":48.9,"b":"hi"},{"h":9.30,"v":46.9,"b":"hi"},{"h":9.35,"v":49.1,"b":"hi"},{"h":9.40,"v":46.2,"b":"hi"},{"h":9.45,"v":48.4,"b":"hi"},{"h":9.50,"v":45.9,"b":"hi"},{"h":9.55,"v":47.8,"b":"hi"},{"h":9.60,"v":46.8,"b":"hi"},{"h":9.65,"v":44.8,"b":"hi"},{"h":9.69,"v":46.2,"b":"hi"},
      {"h":8.50,"v":89.3,"b":"hi"},{"h":8.53,"v":85.7,"b":"hi"},{"h":8.55,"v":81.6,"b":"hi"},{"h":8.58,"v":77.7,"b":"hi"},{"h":8.60,"v":74.3,"b":"hi"},{"h":8.62,"v":70.9,"b":"hi"},{"h":8.65,"v":67.8,"b":"hi"},{"h":8.68,"v":65.0,"b":"hi"},{"h":8.73,"v":61.8,"b":"hi"},{"h":8.78,"v":58.5,"b":"hi"},{"h":8.83,"v":55.8,"b":"hi"},{"h":8.88,"v":54.0,"b":"hi"},{"h":8.93,"v":52.4,"b":"hi"},
      {"h":10.14,"v":95.1,"b":"hi"},{"h":10.15,"v":92.9,"b":"hi"},{"h":10.17,"v":88.1,"b":"hi"},{"h":10.20,"v":84.0,"b":"hi"},{"h":10.22,"v":79.3,"b":"hi"},{"h":10.24,"v":76.1,"b":"hi"},{"h":10.27,"v":73.5,"b":"hi"},{"h":10.29,"v":70.1,"b":"hi"},{"h":10.34,"v":65.4,"b":"hi"},{"h":10.39,"v":61.9,"b":"hi"},{"h":10.44,"v":59.1,"b":"hi"},{"h":10.49,"v":56.8,"b":"hi"},{"h":10.53,"v":54.8,"b":"hi"},{"h":10.58,"v":53.5,"b":"hi"},{"h":10.63,"v":52.3,"b":"hi"},{"h":10.68,"v":51.1,"b":"hi"},{"h":10.73,"v":50.2,"b":"hi"},{"h":10.77,"v":50.8,"b":"hi"},{"h":10.82,"v":49.6,"b":"hi"},{"h":10.87,"v":50.5,"b":"hi"},{"h":10.92,"v":49.6,"b":"hi"},{"h":10.97,"v":50.2,"b":"hi"},{"h":11.01,"v":49.0,"b":"hi"},{"h":11.06,"v":49.6,"b":"hi"},{"h":11.11,"v":48.8,"b":"hi"},{"h":11.16,"v":49.0,"b":"hi"},{"h":11.21,"v":48.2,"b":"hi"},{"h":11.25,"v":48.2,"b":"hi"},{"h":11.30,"v":46.8,"b":"hi"},{"h":11.35,"v":44.9,"b":"hi"},{"h":11.40,"v":43.3,"b":"hi"},{"h":11.45,"v":42.8,"b":"hi"},
      {"h":10.75,"v":51.8,"b":"hi"},{"h":10.80,"v":50.6,"b":"hi"},{"h":10.85,"v":48.6,"b":"hi"},{"h":10.90,"v":51.0,"b":"hi"},{"h":10.95,"v":48.9,"b":"hi"},{"h":10.99,"v":50.9,"b":"hi"},{"h":11.04,"v":48.4,"b":"hi"},{"h":11.09,"v":50.1,"b":"hi"},{"h":11.14,"v":47.8,"b":"hi"},{"h":11.18,"v":49.8,"b":"hi"},{"h":11.23,"v":47.2,"b":"hi"},{"h":11.28,"v":48.0,"b":"hi"},{"h":11.33,"v":45.6,"b":"hi"},{"h":11.38,"v":44.2,"b":"hi"},{"h":11.43,"v":43.8,"b":"hi"},
      {"h":10.16,"v":90.5,"b":"hi"},{"h":10.19,"v":86.0,"b":"hi"},{"h":10.21,"v":81.6,"b":"hi"},{"h":10.23,"v":77.7,"b":"hi"},{"h":10.25,"v":74.8,"b":"hi"},{"h":10.28,"v":71.8,"b":"hi"},{"h":10.31,"v":67.7,"b":"hi"},{"h":10.37,"v":63.6,"b":"hi"},{"h":10.42,"v":60.5,"b":"hi"},{"h":10.47,"v":57.9,"b":"hi"},{"h":10.51,"v":55.8,"b":"hi"},{"h":10.56,"v":54.1,"b":"hi"},{"h":10.61,"v":52.9,"b":"hi"},{"h":10.66,"v":51.7,"b":"hi"},
      {"h":11.78,"v":72.2,"b":"hi"},{"h":11.81,"v":69.2,"b":"hi"},{"h":11.83,"v":66.1,"b":"hi"},{"h":11.86,"v":63.1,"b":"hi"},{"h":11.88,"v":60.9,"b":"hi"},{"h":11.93,"v":57.4,"b":"hi"},{"h":11.98,"v":55.1,"b":"hi"},{"h":12.02,"v":53.5,"b":"hi"},{"h":12.07,"v":52.0,"b":"hi"},{"h":12.12,"v":51.1,"b":"hi"},{"h":12.17,"v":49.9,"b":"hi"},{"h":12.22,"v":49.0,"b":"hi"},{"h":12.26,"v":48.2,"b":"hi"},{"h":12.31,"v":47.4,"b":"hi"},{"h":12.36,"v":46.5,"b":"hi"},{"h":12.41,"v":46.8,"b":"hi"},{"h":12.46,"v":45.8,"b":"hi"},{"h":12.51,"v":46.8,"b":"hi"},{"h":12.55,"v":45.8,"b":"hi"},{"h":12.60,"v":46.8,"b":"hi"},{"h":12.65,"v":47.6,"b":"hi"},{"h":12.70,"v":48.8,"b":"hi"},{"h":12.75,"v":49.0,"b":"hi"},{"h":12.79,"v":47.4,"b":"hi"},{"h":12.84,"v":45.4,"b":"hi"},{"h":12.89,"v":43.9,"b":"hi"},{"h":12.94,"v":42.8,"b":"hi"},{"h":12.99,"v":42.0,"b":"hi"},{"h":13.03,"v":40.9,"b":"hi"},{"h":13.08,"v":39.9,"b":"hi"},
      {"h":12.19,"v":48.0,"b":"hi"},{"h":12.24,"v":50.0,"b":"hi"},{"h":12.29,"v":46.6,"b":"hi"},{"h":12.34,"v":48.4,"b":"hi"},{"h":12.38,"v":45.6,"b":"hi"},{"h":12.43,"v":47.6,"b":"hi"},{"h":12.48,"v":46.4,"b":"hi"},{"h":12.53,"v":44.9,"b":"hi"},{"h":12.58,"v":47.5,"b":"hi"},{"h":12.62,"v":46.1,"b":"hi"},{"h":12.67,"v":48.5,"b":"hi"},{"h":12.72,"v":47.2,"b":"hi"},{"h":12.77,"v":49.9,"b":"hi"},{"h":12.82,"v":46.2,"b":"hi"},{"h":12.87,"v":44.6,"b":"hi"},
      {"h":11.79,"v":70.7,"b":"hi"},{"h":11.82,"v":67.6,"b":"hi"},{"h":11.85,"v":64.6,"b":"hi"},{"h":11.87,"v":62.0,"b":"hi"},{"h":11.91,"v":59.1,"b":"hi"},{"h":11.96,"v":56.2,"b":"hi"},{"h":12.00,"v":54.3,"b":"hi"},{"h":12.05,"v":52.7,"b":"hi"},{"h":12.10,"v":51.5,"b":"hi"},{"h":12.14,"v":50.5,"b":"hi"},
      {"h":13.44,"v":49.0,"b":"hi"},{"h":13.47,"v":46.5,"b":"hi"},{"h":13.51,"v":44.6,"b":"hi"},{"h":13.56,"v":42.8,"b":"hi"},{"h":13.61,"v":41.6,"b":"hi"},{"h":13.66,"v":40.9,"b":"hi"},{"h":13.71,"v":40.4,"b":"hi"},{"h":13.76,"v":39.7,"b":"hi"},{"h":13.80,"v":40.2,"b":"hi"},{"h":13.85,"v":39.2,"b":"hi"},{"h":13.90,"v":38.8,"b":"hi"},{"h":13.95,"v":39.2,"b":"hi"},{"h":14.00,"v":39.9,"b":"hi"},{"h":14.04,"v":39.7,"b":"hi"},{"h":14.09,"v":40.4,"b":"hi"},{"h":14.14,"v":41.4,"b":"hi"},{"h":14.19,"v":42.3,"b":"hi"},{"h":14.24,"v":43.3,"b":"hi"},{"h":14.28,"v":44.6,"b":"hi"},{"h":14.33,"v":45.4,"b":"hi"},{"h":14.38,"v":46.2,"b":"hi"},{"h":14.43,"v":46.5,"b":"hi"},{"h":14.48,"v":45.8,"b":"hi"},{"h":14.52,"v":45.4,"b":"hi"},{"h":14.57,"v":44.1,"b":"hi"},{"h":14.62,"v":42.3,"b":"hi"},{"h":14.67,"v":41.6,"b":"hi"},{"h":14.72,"v":40.9,"b":"hi"},{"h":14.76,"v":41.6,"b":"hi"},
      {"h":13.49,"v":47.4,"b":"hi"},{"h":13.54,"v":43.5,"b":"hi"},{"h":13.58,"v":43.9,"b":"hi"},{"h":13.63,"v":40.5,"b":"hi"},{"h":13.68,"v":42.0,"b":"hi"},{"h":13.73,"v":39.0,"b":"hi"},{"h":13.78,"v":41.0,"b":"hi"},{"h":13.83,"v":38.3,"b":"hi"},{"h":13.88,"v":40.5,"b":"hi"},{"h":13.92,"v":37.8,"b":"hi"},{"h":13.97,"v":40.6,"b":"hi"},{"h":14.02,"v":38.6,"b":"hi"},{"h":14.07,"v":41.2,"b":"hi"},{"h":14.11,"v":39.4,"b":"hi"},{"h":14.16,"v":42.6,"b":"hi"},{"h":14.21,"v":41.2,"b":"hi"},{"h":14.26,"v":44.6,"b":"hi"},{"h":14.31,"v":43.8,"b":"hi"},{"h":14.35,"v":47.0,"b":"hi"},{"h":14.40,"v":45.6,"b":"hi"},{"h":14.45,"v":47.4,"b":"hi"},{"h":14.50,"v":44.8,"b":"hi"},{"h":14.55,"v":45.8,"b":"hi"},{"h":14.60,"v":43.0,"b":"hi"},{"h":14.64,"v":40.8,"b":"hi"},{"h":14.69,"v":42.5,"b":"hi"},{"h":14.74,"v":40.0,"b":"hi"},
      {"h":14.93,"v":38.6,"b":"hi"},{"h":14.96,"v":37.0,"b":"hi"},{"h":15.01,"v":35.5,"b":"hi"},{"h":15.06,"v":34.3,"b":"hi"},{"h":15.10,"v":33.9,"b":"hi"},{"h":15.15,"v":34.7,"b":"hi"},{"h":15.20,"v":33.9,"b":"hi"},{"h":15.25,"v":34.9,"b":"hi"},{"h":15.29,"v":34.3,"b":"hi"},{"h":15.34,"v":35.1,"b":"hi"},{"h":15.39,"v":34.5,"b":"hi"},{"h":15.44,"v":35.1,"b":"hi"},{"h":15.49,"v":34.7,"b":"hi"},{"h":15.54,"v":35.5,"b":"hi"},{"h":15.58,"v":35.1,"b":"hi"},{"h":15.63,"v":35.9,"b":"hi"},{"h":15.68,"v":36.5,"b":"hi"},{"h":15.73,"v":37.2,"b":"hi"},{"h":15.78,"v":37.6,"b":"hi"},{"h":15.82,"v":38.6,"b":"hi"},{"h":15.87,"v":39.7,"b":"hi"},{"h":15.92,"v":41.4,"b":"hi"},{"h":15.97,"v":42.3,"b":"hi"},{"h":16.02,"v":43.3,"b":"hi"},{"h":16.07,"v":43.5,"b":"hi"},{"h":16.11,"v":42.8,"b":"hi"},{"h":16.16,"v":40.9,"b":"hi"},{"h":16.21,"v":39.2,"b":"hi"},{"h":16.26,"v":37.6,"b":"hi"},{"h":16.30,"v":36.3,"b":"hi"},{"h":16.35,"v":35.3,"b":"hi"},{"h":16.40,"v":34.7,"b":"hi"},{"h":16.45,"v":34.3,"b":"hi"},{"h":16.50,"v":34.5,"b":"hi"},{"h":16.55,"v":33.9,"b":"hi"},{"h":16.59,"v":34.3,"b":"hi"},{"h":16.64,"v":34.7,"b":"hi"},{"h":16.69,"v":34.1,"b":"hi"},{"h":16.74,"v":34.5,"b":"hi"},{"h":16.79,"v":33.9,"b":"hi"},{"h":16.83,"v":34.7,"b":"hi"},{"h":16.88,"v":34.3,"b":"hi"},{"h":16.93,"v":34.9,"b":"hi"},{"h":16.98,"v":34.3,"b":"hi"},{"h":17.03,"v":33.1,"b":"hi"},{"h":17.08,"v":31.9,"b":"hi"},{"h":17.13,"v":31.0,"b":"hi"},{"h":17.18,"v":31.9,"b":"hi"},{"h":17.23,"v":32.9,"b":"hi"},{"h":17.27,"v":33.9,"b":"hi"},{"h":17.32,"v":34.3,"b":"hi"},{"h":17.36,"v":35.5,"b":"hi"},{"h":17.41,"v":38.6,"b":"hi"},{"h":17.46,"v":41.6,"b":"hi"},{"h":17.51,"v":45.4,"b":"hi"},{"h":17.56,"v":48.8,"b":"hi"},{"h":17.60,"v":50.5,"b":"hi"},{"h":17.65,"v":51.1,"b":"hi"},{"h":17.70,"v":49.6,"b":"hi"},{"h":17.75,"v":46.8,"b":"hi"},{"h":17.80,"v":43.3,"b":"hi"},{"h":17.84,"v":40.9,"b":"hi"},{"h":17.89,"v":39.0,"b":"hi"},{"h":17.94,"v":37.6,"b":"hi"},{"h":17.99,"v":36.3,"b":"hi"},{"h":18.04,"v":34.9,"b":"hi"},{"h":18.09,"v":33.5,"b":"hi"},{"h":18.13,"v":32.7,"b":"hi"},{"h":18.18,"v":33.9,"b":"hi"},{"h":18.23,"v":35.9,"b":"hi"},{"h":18.28,"v":37.6,"b":"hi"},{"h":18.32,"v":38.8,"b":"hi"},{"h":18.37,"v":38.1,"b":"hi"},{"h":18.42,"v":36.8,"b":"hi"},{"h":18.47,"v":35.5,"b":"hi"},{"h":18.52,"v":34.3,"b":"hi"},{"h":18.57,"v":33.9,"b":"hi"},{"h":18.61,"v":34.3,"b":"hi"},{"h":18.66,"v":34.5,"b":"hi"},{"h":18.71,"v":35.1,"b":"hi"},{"h":18.76,"v":35.3,"b":"hi"},{"h":18.81,"v":35.9,"b":"hi"},{"h":18.85,"v":36.3,"b":"hi"},{"h":18.90,"v":37.4,"b":"hi"},{"h":18.95,"v":39.2,"b":"hi"},{"h":19.00,"v":40.9,"b":"hi"},{"h":19.05,"v":42.3,"b":"hi"},{"h":19.10,"v":44.1,"b":"hi"},{"h":19.14,"v":45.4,"b":"hi"},{"h":19.19,"v":46.8,"b":"hi"},{"h":19.24,"v":47.9,"b":"hi"},{"h":19.29,"v":48.2,"b":"hi"},{"h":19.34,"v":46.8,"b":"hi"},{"h":19.38,"v":44.1,"b":"hi"},{"h":19.43,"v":41.4,"b":"hi"},{"h":19.48,"v":39.0,"b":"hi"},{"h":19.53,"v":37.0,"b":"hi"},{"h":19.58,"v":34.9,"b":"hi"},{"h":19.62,"v":32.9,"b":"hi"},{"h":19.67,"v":31.5,"b":"hi"},{"h":19.72,"v":30.6,"b":"hi"},{"h":19.77,"v":31.5,"b":"hi"},{"h":19.82,"v":33.5,"b":"hi"},{"h":19.87,"v":35.9,"b":"hi"},{"h":19.91,"v":38.6,"b":"hi"},{"h":19.96,"v":42.8,"b":"hi"},{"h":20.01,"v":45.4,"b":"hi"},{"h":20.06,"v":44.6,"b":"hi"},{"h":20.11,"v":41.6,"b":"hi"},{"h":20.15,"v":38.6,"b":"hi"},{"h":20.20,"v":35.5,"b":"hi"},{"h":20.25,"v":33.3,"b":"hi"},{"h":20.30,"v":31.9,"b":"hi"},{"h":20.35,"v":31.2,"b":"hi"},{"h":20.39,"v":30.8,"b":"hi"},{"h":20.44,"v":31.9,"b":"hi"},{"h":20.49,"v":33.5,"b":"hi"},{"h":20.54,"v":34.3,"b":"hi"},{"h":20.59,"v":35.9,"b":"hi"},{"h":20.63,"v":37.0,"b":"hi"},{"h":20.68,"v":39.2,"b":"hi"},{"h":20.73,"v":42.8,"b":"hi"},{"h":20.78,"v":45.8,"b":"hi"},{"h":20.83,"v":49.6,"b":"hi"},{"h":20.87,"v":52.6,"b":"hi"},{"h":20.92,"v":53.5,"b":"hi"},{"h":20.97,"v":52.6,"b":"hi"},{"h":21.02,"v":49.0,"b":"hi"},{"h":21.07,"v":44.9,"b":"hi"},{"h":21.11,"v":40.4,"b":"hi"},{"h":21.16,"v":36.3,"b":"hi"},{"h":21.21,"v":33.9,"b":"hi"},{"h":21.26,"v":31.5,"b":"hi"},{"h":21.31,"v":30.5,"b":"hi"},{"h":21.35,"v":29.7,"b":"hi"},{"h":21.40,"v":30.5,"b":"hi"},{"h":21.45,"v":32.9,"b":"hi"},{"h":21.50,"v":35.5,"b":"hi"},{"h":21.55,"v":38.6,"b":"hi"},{"h":21.59,"v":41.6,"b":"hi"},{"h":21.64,"v":45.8,"b":"hi"},{"h":21.69,"v":47.1,"b":"hi"},{"h":21.74,"v":45.8,"b":"hi"},{"h":21.79,"v":42.3,"b":"hi"},{"h":21.84,"v":38.8,"b":"hi"},{"h":21.88,"v":36.3,"b":"hi"},{"h":21.93,"v":34.5,"b":"hi"},{"h":21.98,"v":33.9,"b":"hi"},{"h":22.03,"v":34.7,"b":"hi"},{"h":22.08,"v":35.9,"b":"hi"},{"h":22.12,"v":36.8,"b":"hi"},{"h":22.17,"v":37.6,"b":"hi"},{"h":22.22,"v":38.6,"b":"hi"},{"h":22.27,"v":39.4,"b":"hi"},{"h":22.32,"v":40.9,"b":"hi"},{"h":22.36,"v":42.3,"b":"hi"},{"h":22.41,"v":44.1,"b":"hi"},{"h":22.46,"v":46.2,"b":"hi"},{"h":22.51,"v":48.2,"b":"hi"},{"h":22.56,"v":47.6,"b":"hi"},{"h":22.61,"v":44.1,"b":"hi"},{"h":22.65,"v":40.4,"b":"hi"},{"h":22.70,"v":37.0,"b":"hi"},{"h":22.75,"v":33.9,"b":"hi"},{"h":22.80,"v":31.5,"b":"hi"},{"h":22.85,"v":29.7,"b":"hi"},{"h":22.89,"v":28.7,"b":"hi"},{"h":22.94,"v":29.2,"b":"hi"},{"h":22.99,"v":30.5,"b":"hi"},{"h":23.04,"v":32.9,"b":"hi"},{"h":23.09,"v":35.5,"b":"hi"},{"h":23.14,"v":38.6,"b":"hi"},{"h":23.18,"v":42.3,"b":"hi"},{"h":23.23,"v":45.8,"b":"hi"},{"h":23.28,"v":49.6,"b":"hi"},{"h":23.33,"v":50.5,"b":"hi"},{"h":23.38,"v":46.8,"b":"hi"},{"h":23.43,"v":41.6,"b":"hi"},{"h":23.47,"v":37.0,"b":"hi"},{"h":23.52,"v":33.9,"b":"hi"},{"h":23.57,"v":31.5,"b":"hi"},{"h":23.81,"v":37.4,"b":"hi"},{"h":23.86,"v":40.9,"b":"hi"},{"h":23.90,"v":43.9,"b":"hi"},{"h":23.95,"v":46.8,"b":"hi"},{"h":23.98,"v":48.2,"b":"hi"},
      {"h":15.03,"v":36.5,"b":"hi"},{"h":15.08,"v":33.2,"b":"hi"},{"h":15.12,"v":35.6,"b":"hi"},{"h":15.17,"v":33.4,"b":"hi"},{"h":15.22,"v":35.6,"b":"hi"},{"h":15.27,"v":33.6,"b":"hi"},{"h":15.32,"v":34.0,"b":"hi"},{"h":15.36,"v":36.0,"b":"hi"},{"h":15.41,"v":33.7,"b":"hi"},{"h":15.46,"v":35.8,"b":"hi"},{"h":15.51,"v":33.8,"b":"hi"},{"h":15.56,"v":34.5,"b":"hi"},{"h":15.60,"v":36.6,"b":"hi"},{"h":15.65,"v":35.0,"b":"hi"},{"h":15.70,"v":37.8,"b":"hi"},
      {"h":16.33,"v":34.6,"b":"hi"},{"h":16.37,"v":36.2,"b":"hi"},{"h":16.42,"v":33.6,"b":"hi"},{"h":16.47,"v":35.3,"b":"hi"},{"h":16.52,"v":33.4,"b":"hi"},{"h":16.57,"v":35.0,"b":"hi"},{"h":16.62,"v":33.5,"b":"hi"},{"h":16.66,"v":35.4,"b":"hi"},{"h":16.71,"v":33.3,"b":"hi"},{"h":16.76,"v":35.4,"b":"hi"},{"h":16.81,"v":33.5,"b":"hi"},{"h":16.86,"v":35.2,"b":"hi"},{"h":16.91,"v":33.6,"b":"hi"},{"h":16.96,"v":35.3,"b":"hi"},{"h":17.00,"v":32.6,"b":"hi"},
      {"h":22.05,"v":33.8,"b":"hi"},{"h":22.10,"v":36.9,"b":"hi"},{"h":22.15,"v":35.9,"b":"hi"},{"h":22.19,"v":38.6,"b":"hi"},{"h":22.24,"v":37.6,"b":"hi"},{"h":22.29,"v":40.2,"b":"hi"},{"h":22.34,"v":39.5,"b":"hi"},
      {"h":17.38,"v":37.0,"b":"hi"},{"h":17.43,"v":40.1,"b":"hi"},{"h":17.48,"v":43.5,"b":"hi"},{"h":17.53,"v":47.1,"b":"hi"},{"h":17.58,"v":49.7,"b":"hi"},{"h":17.67,"v":50.4,"b":"hi"},{"h":17.72,"v":48.2,"b":"hi"},{"h":17.77,"v":45.0,"b":"hi"},{"h":17.82,"v":42.1,"b":"hi"},{"h":19.21,"v":47.4,"b":"hi"},{"h":19.26,"v":48.0,"b":"hi"},{"h":19.31,"v":47.5,"b":"hi"},{"h":19.36,"v":45.4,"b":"hi"},{"h":19.41,"v":42.7,"b":"hi"},{"h":19.46,"v":40.2,"b":"hi"},{"h":19.51,"v":38.0,"b":"hi"},{"h":19.55,"v":35.9,"b":"hi"},{"h":19.60,"v":33.9,"b":"hi"},{"h":19.64,"v":32.2,"b":"hi"},{"h":20.85,"v":51.1,"b":"hi"},{"h":20.90,"v":53.2,"b":"hi"},{"h":20.94,"v":53.0,"b":"hi"},{"h":20.99,"v":50.8,"b":"hi"},{"h":21.04,"v":47.0,"b":"hi"},{"h":21.09,"v":42.6,"b":"hi"},{"h":21.14,"v":38.3,"b":"hi"},{"h":21.18,"v":35.1,"b":"hi"},{"h":23.26,"v":47.7,"b":"hi"},{"h":23.31,"v":50.1,"b":"hi"},{"h":23.35,"v":48.6,"b":"hi"},{"h":23.40,"v":44.2,"b":"hi"},{"h":23.45,"v":39.2,"b":"hi"},{"h":16.00,"v":42.8,"b":"hi"},{"h":16.04,"v":43.4,"b":"hi"},{"h":16.09,"v":43.2,"b":"hi"},{"h":16.14,"v":41.9,"b":"hi"},{"h":16.18,"v":40.0,"b":"hi"},{"h":16.23,"v":38.4,"b":"hi"},{"h":16.28,"v":36.9,"b":"hi"},{"h":14.40,"v":46.4,"b":"hi"},{"h":14.46,"v":46.2,"b":"hi"},
      {"h":19.70,"v":30.9,"b":"hi"},{"h":19.74,"v":30.8,"b":"hi"},{"h":19.79,"v":32.4,"b":"hi"},{"h":19.84,"v":34.6,"b":"hi"},{"h":19.89,"v":37.2,"b":"hi"},{"h":19.94,"v":40.6,"b":"hi"},{"h":19.98,"v":44.0,"b":"hi"},{"h":20.03,"v":45.6,"b":"hi"},{"h":20.08,"v":43.2,"b":"hi"},{"h":20.13,"v":40.0,"b":"hi"},{"h":20.18,"v":37.0,"b":"hi"},{"h":20.22,"v":34.3,"b":"hi"},{"h":20.27,"v":32.6,"b":"hi"},{"h":20.32,"v":31.5,"b":"hi"},{"h":20.37,"v":30.5,"b":"hi"},{"h":20.42,"v":31.3,"b":"hi"},{"h":20.47,"v":32.7,"b":"hi"},{"h":20.52,"v":34.8,"b":"hi"},{"h":20.57,"v":35.2,"b":"hi"},{"h":20.61,"v":36.4,"b":"hi"},{"h":20.66,"v":38.0,"b":"hi"},{"h":20.70,"v":40.9,"b":"hi"},{"h":20.75,"v":44.2,"b":"hi"},{"h":20.80,"v":47.5,"b":"hi"},{"h":21.23,"v":32.7,"b":"hi"},{"h":21.28,"v":31.0,"b":"hi"},{"h":21.33,"v":30.0,"b":"hi"},{"h":21.38,"v":29.5,"b":"hi"},{"h":21.42,"v":31.6,"b":"hi"},{"h":21.47,"v":34.2,"b":"hi"},{"h":21.52,"v":37.0,"b":"hi"},{"h":21.57,"v":40.0,"b":"hi"},{"h":21.62,"v":43.6,"b":"hi"},{"h":21.66,"v":46.6,"b":"hi"},{"h":21.71,"v":46.5,"b":"hi"},{"h":21.76,"v":44.0,"b":"hi"},{"h":21.81,"v":40.5,"b":"hi"},{"h":21.86,"v":37.4,"b":"hi"},{"h":21.91,"v":35.3,"b":"hi"},{"h":21.95,"v":34.0,"b":"hi"},{"h":22.00,"v":34.3,"b":"hi"},{"h":22.38,"v":43.2,"b":"hi"},{"h":22.43,"v":45.1,"b":"hi"},{"h":22.48,"v":47.2,"b":"hi"},{"h":22.53,"v":48.6,"b":"hi"},{"h":22.58,"v":46.0,"b":"hi"},{"h":22.63,"v":42.2,"b":"hi"},{"h":22.68,"v":38.6,"b":"hi"},{"h":22.72,"v":35.4,"b":"hi"},{"h":22.77,"v":32.6,"b":"hi"},{"h":22.82,"v":30.5,"b":"hi"},{"h":22.87,"v":29.1,"b":"hi"},{"h":22.91,"v":28.5,"b":"hi"},{"h":22.96,"v":29.8,"b":"hi"},{"h":23.01,"v":31.7,"b":"hi"},{"h":23.06,"v":34.2,"b":"hi"},{"h":23.11,"v":37.0,"b":"hi"},{"h":23.16,"v":40.4,"b":"hi"},{"h":23.20,"v":44.0,"b":"hi"},{"h":23.50,"v":35.3,"b":"hi"},{"h":23.54,"v":32.7,"b":"hi"},{"h":23.59,"v":30.6,"b":"hi"},{"h":23.83,"v":39.0,"b":"hi"},{"h":23.88,"v":42.4,"b":"hi"},{"h":23.92,"v":45.3,"b":"hi"},{"h":23.96,"v":47.4,"b":"hi"}
    ]
  },
  "layer": [
    {
      "mark": {"type": "point", "shape": "circle", "filled": false, "size": 26, "strokeWidth": 1.4, "opacity": 1},
      "encoding": {
        "x": {
          "field": "h",
          "type": "quantitative",
          "title": "Time since midnight [h]",
          "scale": {"domain": [0, 24], "nice": false, "zero": false},
          "axis": {
            "values": [0, 4, 8, 12, 16, 20, 24],
            "format": "d",
            "tickSize": 15,
            "labelPadding": 21,
            "titlePadding": 22
          }
        },
        "y": {
          "field": "v",
          "type": "quantitative",
          "title": null,
          "scale": {"type": "log", "domain": [20, 700], "nice": false},
          "axis": {
            "orient": "left",
            "values": [20, 30, 40, 50, 60, 70, 80, 90, 200, 300, 400, 500, 600, 700],
            "labels": false,
            "tickSize": 8
          }
        },
        "color": {
          "field": "b",
          "type": "nominal",
          "scale": {"domain": ["lo", "hi"], "range": ["#dc143c", "#000000"]},
          "legend": {
            "orient": "none",
            "legendX": 366,
            "legendY": 22,
            "title": null,
            "labelExpr": "datum.label == 'lo' ? 'Energy: 27 keV - 50 keV' : 'Energy: 295 keV - 540 keV'",
            "labelFont": "DejaVu Serif",
            "labelFontSize": 36,
            "labelColor": "#333333",
            "labelLimit": 700,
            "strokeColor": "#c8c8c8",
            "cornerRadius": 4,
            "fillColor": "#ffffff",
            "padding": 8,
            "symbolType": "circle",
            "symbolSize": 24,
            "symbolStrokeWidth": 1.3,
            "symbolOffset": 22,
            "labelOffset": 44,
            "rowPadding": 11
          }
        }
      }
    },
    {
      "mark": {"type": "point", "opacity": 0},
      "encoding": {
        "x": {"field": "h", "type": "quantitative"},
        "y": {
          "field": "v",
          "type": "quantitative",
          "title": "Count Rate [cts s⁻¹]",
          "axis": {
            "orient": "left",
            "values": [100],
            "labelExpr": "'10²'",
            "labelFontSize": 28,
            "tickSize": 15,
            "labelPadding": 24,
            "titlePadding": 22
          }
        }
      }
    }
  ],
  "resolve": {"axis": {"y": "independent"}}
}
